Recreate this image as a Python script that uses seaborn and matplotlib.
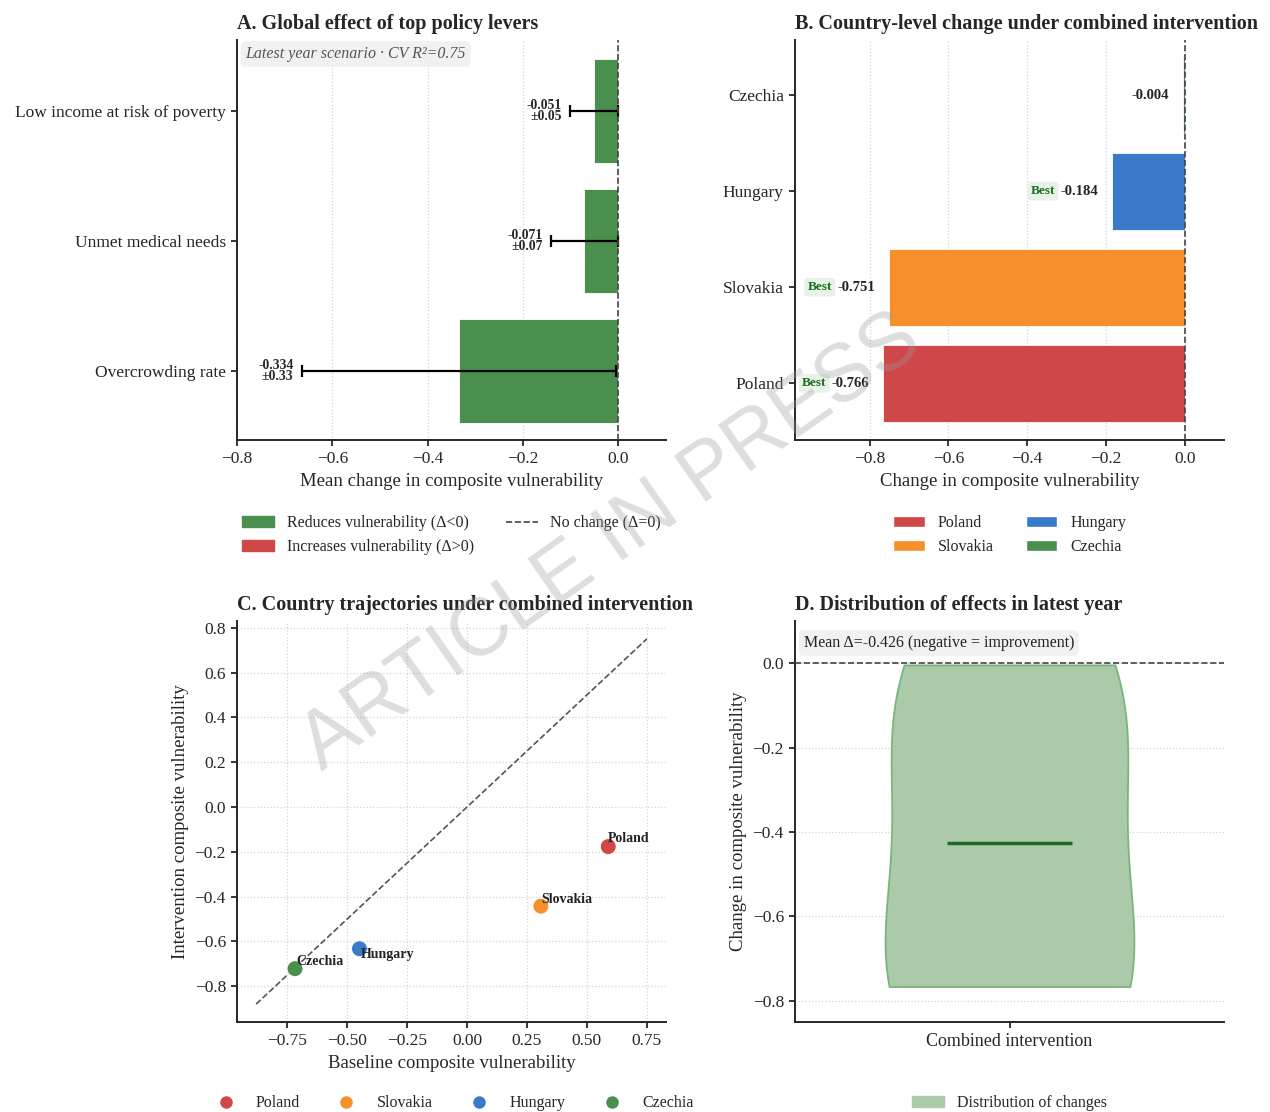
import numpy as np
import pandas as pd
import seaborn as sns
import matplotlib.pyplot as plt
from matplotlib.patches import Patch
from matplotlib.lines import Line2D

sns.set_style("ticks")
plt.rcParams["font.family"] = ["Liberation Serif", "DejaVu Serif"]
plt.rcParams["axes.linewidth"] = 1.4
plt.rcParams["xtick.major.width"] = 1.3
plt.rcParams["ytick.major.width"] = 1.3
plt.rcParams["xtick.major.size"] = 4.5
plt.rcParams["ytick.major.size"] = 4.5
plt.rcParams["xtick.labelsize"] = 12.5
plt.rcParams["ytick.labelsize"] = 12.5
plt.rcParams["axes.labelsize"] = 13.5

# panel A: global lever effects
levers = ["Low income at risk of poverty", "Unmet medical needs", "Overcrowding rate"]
lever_effect = [-0.051, -0.071, -0.334]
lever_err = [0.05, 0.07, 0.33]
cv_r2 = 0.75

# panel B/C/D: countries
countries = ["Poland", "Slovakia", "Hungary", "Czechia"]
country_change = [-0.766, -0.751, -0.184, -0.004]
country_best = [True, True, True, False]
baseline = [0.589, 0.308, -0.449, -0.718]
intervention = [-0.177, -0.443, -0.633, -0.722]
diag_range = [-0.88, 0.75]

colors = {"Poland": "#d0474a", "Slovakia": "#f5902a", "Hungary": "#3a7bc9", "Czechia": "#4b8f4f"}
GREEN = "#4b8f4f"
RED = "#d0474a"
ZERO = "#444444"
GRID = dict(linestyle=":", color="#d5d5d5", linewidth=0.9)

fig = plt.figure(figsize=(12.7, 11.12), dpi=100)
W, H = 1270, 1112


def add_ax(l, t, r, b):
    return fig.add_axes([l / W, 1 - b / H, (r - l) / W, (b - t) / H])


axA = add_ax(237, 40, 666, 440)
axB = add_ax(795, 40, 1224, 440)
axC = add_ax(237, 621, 666, 1022)
axD = add_ax(795, 621, 1224, 1022)

# ---------- A ----------
sns.barplot(x=lever_effect, y=levers, orient="h", color=GREEN, saturation=1,
            width=0.8, errorbar=None, edgecolor="white", linewidth=0.6, ax=axA)
axA.errorbar(lever_effect, range(len(levers)), xerr=lever_err, fmt="none",
             ecolor="black", elinewidth=1.6, capsize=4, capthick=1.6, zorder=4)
for i, (v, e) in enumerate(zip(lever_effect, lever_err)):
    axA.annotate(f"{v:.3f}\n\u00b1{e:.2f}", xy=(v - e, i), xytext=(-6, 0),
                 textcoords="offset points", ha="right", va="center",
                 fontsize=9.8, fontweight="bold", linespacing=0.75)
axA.axvline(0, color=ZERO, ls="--", lw=1.2, zorder=5)
axA.set_xlim(-0.8, 0.1)
axA.set_ylim(2.53, -0.546)
axA.grid(axis="x", **GRID)
axA.set_axisbelow(True)
axA.set_ylabel("")
axA.set_xlabel("Mean change in composite vulnerability")
axA.set_title("A. Global effect of top policy levers", loc="left", fontsize=14.5,
              fontweight="bold", pad=8)
axA.text(0.02, 0.965, f"Latest year scenario \u00b7 CV R\u00b2={cv_r2:.2f}", transform=axA.transAxes,
         fontsize=11.5, style="italic", color="#555555", va="center", ha="left",
         bbox=dict(boxstyle="round,pad=0.3", fc="#f0f0f0", ec="none", alpha=0.9))
axA.legend(handles=[Patch(color=GREEN, label="Reduces vulnerability (\u0394<0)"),
                    Patch(color=RED, label="Increases vulnerability (\u0394>0)"),
                    Line2D([], [], color=ZERO, ls="--", lw=1.2, label="No change (\u0394=0)")],
           loc="upper center", bbox_to_anchor=(0.5, -0.152), ncol=2, frameon=False,
           fontsize=11.5, columnspacing=2.0, handletextpad=0.8)

# ---------- B ----------
order_b = countries[::-1]
sns.barplot(x=country_change, y=countries, hue=countries, order=order_b, palette=colors,
            orient="h", saturation=1, width=0.8, errorbar=None, legend=False,
            edgecolor="white", linewidth=0.6, ax=axB)
for c, v, best in zip(countries, country_change, country_best):
    yi = order_b.index(c)
    t = axB.text(v - 0.035, yi, f"{v:.3f}", ha="right", va="center",
                 fontsize=10.5, fontweight="bold", color="#222222")
    if best:
        axB.annotate("Best", xy=(0, 0.5), xycoords=t, xytext=(-4, 0),
                     textcoords="offset points", ha="right", va="center",
                     fontsize=9.5, fontweight="bold", color="#1f6b22",
                     bbox=dict(boxstyle="round,pad=0.25", fc="#e6f3e6", ec="none"))
axB.axvline(0, color=ZERO, ls="--", lw=1.2, zorder=5)
axB.set_xlim(-0.99, 0.1)
axB.set_ylim(3.59, -0.573)
axB.set_xticks([-0.8, -0.6, -0.4, -0.2, 0.0])
axB.grid(axis="x", **GRID)
axB.set_axisbelow(True)
axB.set_ylabel("")
axB.set_xlabel("Change in composite vulnerability")
axB.set_title("B. Country-level change under combined intervention", loc="left",
              fontsize=14.5, fontweight="bold", pad=8)
axB.legend(handles=[Patch(facecolor=colors[c], edgecolor="white", label=c) for c in countries],
           loc="upper center", bbox_to_anchor=(0.5, -0.152), ncol=2, frameon=False,
           fontsize=11.5, columnspacing=2.0, handletextpad=0.8)

# ---------- C ----------
dfc = pd.DataFrame({"country": countries, "baseline": baseline, "intervention": intervention})
axC.plot(diag_range, diag_range, ls="--", color="#555555", lw=1.2, zorder=1)
sns.scatterplot(data=dfc, x="baseline", y="intervention", hue="country", palette=colors,
                s=130, edgecolor="white", linewidth=0.6, legend=False, zorder=3, ax=axC)
offsets = {"Poland": (0, 6), "Slovakia": (0, 5), "Hungary": (1, -4), "Czechia": (1, 5)}
for c, bx, iy in zip(countries, baseline, intervention):
    axC.annotate(c, xy=(bx, iy), xytext=offsets[c], textcoords="offset points",
                 ha="left", va="center", fontsize=10, fontweight="bold", color="#222222")
axC.set_xlim(-0.96, 0.83)
axC.set_ylim(-0.96, 0.83)
axC.set_xticks([-0.75, -0.5, -0.25, 0.0, 0.25, 0.5, 0.75])
axC.set_yticks([-0.8, -0.6, -0.4, -0.2, 0.0, 0.2, 0.4, 0.6, 0.8])
axC.grid(**GRID)
axC.set_axisbelow(True)
axC.set_xlabel("Baseline composite vulnerability")
axC.set_ylabel("Intervention composite vulnerability")
axC.set_title("C. Country trajectories under combined intervention", loc="left",
              fontsize=14.5, fontweight="bold", pad=8)
axC.legend(handles=[Line2D([], [], marker="o", ls="", markersize=10, markerfacecolor=colors[c],
                           markeredgecolor="white", label=c) for c in countries],
           loc="upper center", bbox_to_anchor=(0.5, -0.147), ncol=4, frameon=False,
           fontsize=11.5, columnspacing=1.9, handletextpad=0.9)

# ---------- D ----------
mean_change = float(np.mean(country_change))
dfd = pd.DataFrame({"group": ["Combined intervention"] * len(country_change),
                    "change": country_change})
sns.violinplot(data=dfd, x="group", y="change", cut=0, inner=None, width=0.58,
               color="#aacaaa", linecolor="#7ab57a", linewidth=1.3, saturation=1, ax=axD)
axD.hlines(mean_change, -0.145, 0.145, color="#1e6b25", lw=2.5, zorder=4)
axD.axhline(0, color=ZERO, ls="--", lw=1.2, zorder=5)
axD.set_xlim(-0.5, 0.5)
axD.set_ylim(-0.85, 0.1)
axD.set_yticks([-0.8, -0.6, -0.4, -0.2, 0.0])
axD.grid(axis="y", **GRID)
axD.set_axisbelow(True)
axD.set_xlabel("")
axD.set_ylabel("Change in composite vulnerability")
axD.tick_params(axis="x", labelsize=13)
axD.set_title("D. Distribution of effects in latest year", loc="left",
              fontsize=14.5, fontweight="bold", pad=8)
axD.text(0.02, 0.945, f"Mean \u0394={mean_change:.3f} (negative = improvement)",
         transform=axD.transAxes, fontsize=11.5, color="#222222", va="center", ha="left",
         bbox=dict(boxstyle="round,pad=0.3", fc="#f0f0f0", ec="none", alpha=0.9))
axD.legend(handles=[Patch(color="#aacaaa", label="Distribution of changes")],
           loc="upper center", bbox_to_anchor=(0.5, -0.147), frameon=False,
           fontsize=11.5, handletextpad=0.8)

for ax in (axA, axB, axC, axD):
    sns.despine(ax=ax)

# watermark
fig.text(0.481, 0.512, "ARTICLE IN PRESS", rotation=35, ha="center", va="center",
         fontsize=58, family="Liberation Sans", color="#9a9a9a", alpha=0.33, zorder=10)

fig.savefig("out.png", dpi=100)
